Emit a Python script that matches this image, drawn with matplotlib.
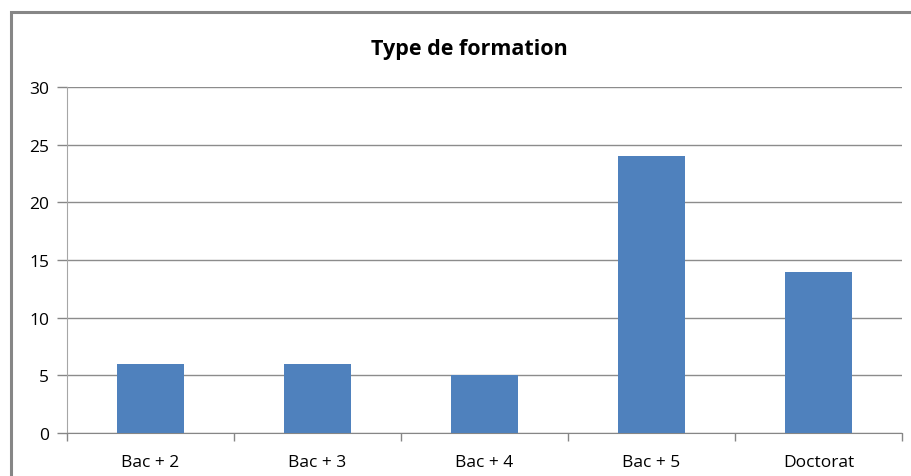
import matplotlib
matplotlib.use("Agg")
import matplotlib.pyplot as plt
from matplotlib.patches import Rectangle

plt.rcParams['font.family'] = ['Open Sans', 'DejaVu Sans']

# Nombre de personnes par type de formation
categories = ["Bac + 2", "Bac + 3", "Bac + 4", "Bac + 5", "Doctorat"]
counts = [6, 6, 5, 24, 14]
yticks = [0, 5, 10, 15, 20, 25, 30]

W, H = 912, 477
fig = plt.figure(figsize=(W / 100, H / 100), dpi=100)

# cadre du graphique (coupé à droite et en bas)
frame = Rectangle((11 / W, -0.1), 1.2, 1 - 13 / H + 0.1, transform=fig.transFigure,
                  fill=False, edgecolor="#868686", linewidth=2.2, clip_on=False)
fig.add_artist(frame)

ax = fig.add_axes([67 / W, (H - 434) / H, 835 / W, 346 / H])
x = list(range(len(categories)))
ax.bar(x, counts, width=0.4, color="#4F81BD", zorder=3)

ax.set_xlim(-0.5, len(categories) - 0.5)
ax.set_ylim(0, 30)
ax.set_yticks(yticks)
ax.yaxis.grid(True, color="#8C8C8C", linewidth=1.0, zorder=0)

ax.set_xticks(x)
ax.set_xticklabels(categories, fontsize=12.5)
ax.set_xticks([i - 0.5 for i in range(len(categories) + 1)], minor=True)
ax.tick_params(axis="x", which="major", length=0, pad=15)
ax.tick_params(axis="x", which="minor", length=6, color="#868686", width=1)
ax.tick_params(axis="y", length=7, color="#868686", width=1, labelsize=12.5, pad=6)

for side in ["top", "right"]:
    ax.spines[side].set_visible(False)
ax.spines["left"].set_color("#A6A6A6")
ax.spines["bottom"].set_color("#868686")

fig.text(469 / W, 1 - 49 / H, "Type de formation", ha="center", va="center",
         fontsize=15.5, fontweight="bold")

fig.savefig("out.png", dpi=100)
